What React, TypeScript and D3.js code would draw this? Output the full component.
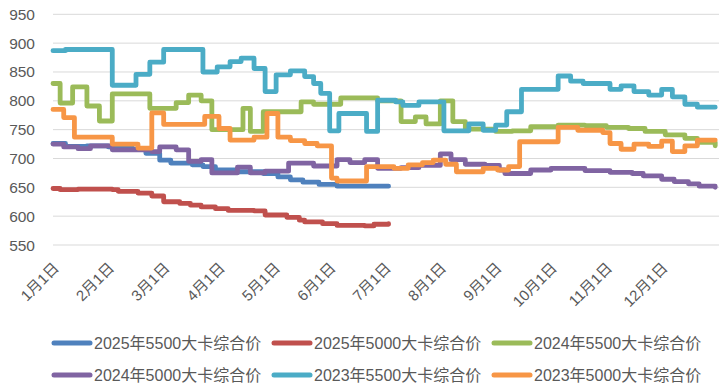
import { useEffect, useRef } from 'react'
import * as d3 from 'd3'

const monthLabels = ['1月1日', '2月1日', '3月1日', '4月1日', '5月1日', '6月1日', '7月1日', '8月1日', '9月1日', '10月1日', '11月1日', '12月1日']
const yTicks = [550, 600, 650, 700, 750, 800, 850, 900, 950]
const daysInMonth = [31, 28, 31, 30, 31, 30, 31, 31, 30, 31, 30, 31]

// each series: dates where the price changes, and the price from that date on
const dates2025_5500 = ['1/1', '1/8', '1/20', '2/1', '2/13', '2/20', '2/27', '3/5', '3/17', '3/23', '3/30', '4/10', '4/25', '5/3', '5/10', '5/17', '5/26', '6/5', '7/3']
const values2025_5500 = [726, 721, 722, 720, 716, 709, 697, 692, 689, 686, 680, 677, 674, 668, 663, 659, 655, 652, 652]

const dates2025_5000 = ['1/1', '1/5', '1/15', '2/3', '2/6', '2/16', '2/23', '3/1', '3/10', '3/16', '3/22', '3/30', '4/6', '4/20', '4/26', '5/8', '5/15', '5/18', '5/28', '6/5', '6/20', '6/25', '7/3']
const values2025_5000 = [648, 646, 647, 646, 643, 640, 635, 625, 622, 619, 616, 613, 610, 609, 602, 598, 593, 590, 587, 584, 583, 586, 587]

const dates2024_5500 = ['1/1', '1/5', '1/12', '1/20', '1/27', '2/3', '2/22', '3/8', '3/15', '3/22', '3/28', '4/14', '4/18', '4/25', '5/16', '5/23', '6/7', '6/27', '7/10', '7/18', '7/24', '8/1', '8/8', '8/15', '9/1', '9/10', '9/20', '10/5', '10/20', '11/1', '11/13', '11/22', '12/3', '12/14', '12/21', '12/31']
const values2024_5500 = [830, 796, 824, 791, 765, 812, 787, 797, 810, 800, 750, 787, 747, 781, 798, 794, 805, 800, 764, 772, 760, 800, 764, 751, 747, 748, 755, 758, 757, 754, 752, 747, 741, 735, 728, 722]

const dates2024_5000 = ['1/1', '1/7', '1/15', '1/22', '2/3', '2/23', '2/27', '3/8', '3/15', '3/22', '3/28', '4/11', '4/18', '4/26', '5/9', '5/23', '6/5', '6/12', '6/20', '6/27', '7/10', '7/20', '8/1', '8/7', '8/15', '8/26', '9/3', '9/6', '9/20', '10/1', '10/20', '11/3', '11/15', '11/21', '12/1', '12/8', '12/16', '12/22', '12/31']
const values2024_5000 = [725, 720, 717, 722, 715, 712, 720, 715, 695, 698, 675, 685, 675, 678, 692, 687, 698, 693, 698, 683, 684, 688, 708, 698, 690, 688, 680, 674, 680, 683, 679, 676, 674, 670, 664, 660, 656, 652, 650]

const dates2023_5500 = ['1/1', '1/8', '2/3', '2/15', '2/22', '3/1', '3/23', '3/31', '4/7', '4/13', '4/20', '4/26', '5/2', '5/10', '5/18', '5/23', '5/27', '6/1', '6/6', '6/21', '6/27', '7/7', '7/11', '7/20', '8/3', '8/17', '8/25', '9/1', '9/7', '9/15', '10/5', '10/12', '10/19', '11/3', '11/9', '11/16', '11/24', '12/1', '12/7', '12/14', '12/21', '12/31']
const values2023_5500 = [887, 889, 827, 846, 867, 889, 850, 859, 868, 874, 856, 816, 845, 852, 842, 830, 813, 748, 778, 747, 801, 798, 792, 798, 748, 760, 749, 758, 781, 820, 843, 834, 830, 820, 826, 816, 810, 820, 807, 794, 789, 789]

const dates2023_5000 = ['1/1', '1/7', '1/13', '2/3', '2/16', '2/23', '3/1', '3/24', '4/1', '4/7', '4/20', '4/27', '5/3', '5/10', '5/18', '5/25', '6/2', '6/5', '6/21', '7/6', '7/14', '7/22', '7/28', '8/4', '8/10', '8/25', '9/2', '9/8', '9/14', '10/5', '10/16', '10/30', '11/3', '11/9', '11/16', '11/24', '12/1', '12/7', '12/14', '12/21', '12/31']
const values2023_5000 = [785, 771, 737, 725, 718, 779, 759, 773, 752, 732, 737, 778, 737, 731, 726, 722, 666, 661, 686, 683, 689, 693, 697, 690, 677, 683, 680, 686, 729, 754, 749, 745, 726, 716, 725, 721, 730, 712, 722, 732, 732]

const seriesNames = ['2025年5500大卡综合价', '2025年5000大卡综合价', '2024年5500大卡综合价', '2024年5000大卡综合价', '2023年5500大卡综合价', '2023年5000大卡综合价']
const seriesColors = ['#4F81BD', '#C0504D', '#9BBB59', '#8064A2', '#4BACC6', '#F79646']
const seriesDates = [dates2025_5500, dates2025_5000, dates2024_5500, dates2024_5000, dates2023_5500, dates2023_5000]
const seriesValues = [values2025_5500, values2025_5000, values2024_5500, values2024_5000, values2023_5500, values2023_5000]

const toMonthPos = (s: string) => {
  const [m, d] = s.split('/').map(Number)
  return (m - 1) + (d - 1) / daysInMonth[m - 1]
}

export default function App() {
  const svgRef = useRef<SVGSVGElement>(null)

  const width = 728
  const height = 387
  const font = '"Liberation Sans", "Noto Sans CJK SC", sans-serif'

  useEffect(() => {
    const svg = d3.select(svgRef.current)
    svg.selectAll('*').remove()

    const x = d3.scaleLinear().domain([0, 12]).range([53, 717])
    const y = d3.scaleLinear().domain([550, 950]).range([245, 14.3])

    // gridlines
    svg.append('g').selectAll('line').data(yTicks).join('line')
      .attr('x1', 53).attr('x2', 719)
      .attr('y1', d => y(d)).attr('y2', d => y(d))
      .attr('stroke', '#D9D9D9').attr('stroke-width', 1)

    svg.append('g').selectAll('text').data(yTicks).join('text')
      .attr('x', 35).attr('y', d => y(d))
      .attr('text-anchor', 'end').attr('dominant-baseline', 'central')
      .attr('font-family', font).attr('font-size', 15.5).attr('fill', '#595959')
      .text(d => d)

    svg.append('g').selectAll('text').data(monthLabels).join('text')
      .attr('transform', (d, i) => `translate(${x(i) + 3},${265}) rotate(-45)`)
      .attr('text-anchor', 'end').attr('dominant-baseline', 'central')
      .attr('font-family', font).attr('font-size', 15).attr('fill', '#595959')
      .text(d => d)

    const line = d3.line<[number, number]>()
      .x(d => x(d[0])).y(d => y(d[1]))
      .curve(d3.curveStepAfter)

    seriesNames.forEach((name, i) => {
      const pts: [number, number][] = seriesDates[i].map((dt, j) => [toMonthPos(dt), seriesValues[i][j]])
      svg.append('path')
        .attr('d', line(pts))
        .attr('fill', 'none')
        .attr('stroke', seriesColors[i])
        .attr('stroke-width', 4.8)
        .attr('stroke-linejoin', 'round')
        .attr('stroke-linecap', 'round')
    })

    // legend
    const legendX = [52, 272, 492]
    const legendY = [343, 375]
    seriesNames.forEach((name, i) => {
      const lx = legendX[i % 3]
      const ly = legendY[Math.floor(i / 3)]
      const g = svg.append('g')
      g.append('line')
        .attr('x1', lx + 2).attr('x2', lx + 38)
        .attr('y1', ly).attr('y2', ly)
        .attr('stroke', seriesColors[i]).attr('stroke-width', 5)
        .attr('stroke-linecap', 'round')
      g.append('text')
        .attr('x', lx + 42).attr('y', ly)
        .attr('dominant-baseline', 'central')
        .attr('font-family', font).attr('font-size', 16).attr('fill', '#595959')
        .text(name)
    })
  }, [])

  return (
    <svg
      ref={svgRef}
      width={width}
      height={height}
      style={{ position: 'absolute', left: 0, top: 0, background: '#fff' }}
    />
  )
}
